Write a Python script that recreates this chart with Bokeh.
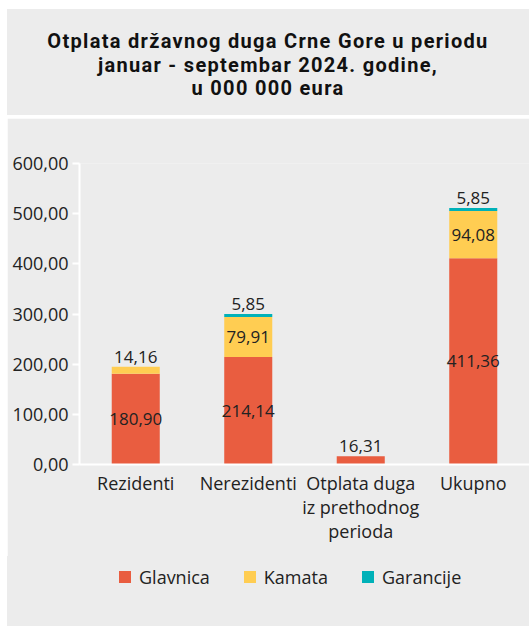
from bokeh.plotting import figure
from bokeh.models import (ColumnDataSource, FactorRange, FixedTicker, CustomJSTickFormatter,
                          Range1d, Div)
from bokeh.layouts import column
from bokeh.core.properties import value
from bokeh.embed import file_html
from bokeh.resources import INLINE

# ---------------- data ----------------
categories = ["Rezidenti", "Nerezidenti", "Otplata duga\niz prethodnog\nperioda", "Ukupno"]
glavnica = [180.90, 214.14, 16.31, 411.36]
kamata = [14.16, 79.91, 0.0, 94.08]
garancije = [0.0, 5.85, 0.0, 5.85]
series_names = ["Glavnica", "Kamata", "Garancije"]
colors = ["#E95D40", "#FFCD52", "#00B1B8"]
y_ticks = [0, 100, 200, 300, 400, 500, 600]
title_lines = ["Otplata državnog duga Crne Gore u periodu",
               "januar - septembar 2024. godine,",
               "u 000 000 eura"]

FONT = "Open Sans"
BG = "#ECECEC"
TXT = "#222222"

# ---------------- title panel ----------------
title_html = (
    '<div style="width:522px;height:106px;box-sizing:border-box;background:%s;'
    'font-family:Roboto;font-weight:bold;font-size:20px;line-height:23.5px;letter-spacing:1.3px;'
    'color:#111;text-align:center;padding-top:21px;margin:0;">%s</div>'
    % (BG, "<br>".join(title_lines))
)
tdiv = Div(text=title_html, width=522, height=106, margin=(0, 0, 3, 0))

# ---------------- chart panel ----------------
cw, ch = 522, 438
p = figure(width=cw, height=ch, x_range=FactorRange(*categories, range_padding=0),
           y_range=Range1d(0, 600), toolbar_location=None, output_backend="svg",
           min_border_left=72, min_border_right=0, min_border_top=45, min_border_bottom=92,
           outline_line_color=None, margin=0)
p.background_fill_color = BG
p.border_fill_color = BG
p.grid.visible = False

src = ColumnDataSource(dict(cat=categories, Glavnica=glavnica, Kamata=kamata, Garancije=garancije))
rs = p.vbar_stack(series_names, x="cat", width=0.427, color=colors, line_color=None, source=src)

# value labels
def fmt(v):
    return f"{v:.2f}".replace(".", ",")

in_x, in_y, in_t = [], [], []
up_x, up_y, up_t = [], [], []
for i, c in enumerate(categories):
    base = 0.0
    total = glavnica[i] + kamata[i] + garancije[i]
    for vals in (glavnica, kamata, garancije):
        v = vals[i]
        if v > 0:
            if v >= 20:
                in_x.append(c); in_y.append(base + v / 2); in_t.append(fmt(v))
            else:
                up_x.append(c); up_y.append(total); up_t.append(fmt(v))
        base += v

p.text(x=in_x, y=in_y, text=in_t, text_align="center", text_baseline="middle",
       text_font=value(FONT), text_font_size="17px", text_color=TXT)
p.text(x=up_x, y=up_y, text=up_t, text_align="center", text_baseline="bottom", y_offset=-4,
       text_font=value(FONT), text_font_size="17px", text_color=TXT)

# axes
p.yaxis.ticker = FixedTicker(ticks=y_ticks)
p.yaxis.formatter = CustomJSTickFormatter(code="return tick.toFixed(2).replace('.', ',');")
for ax in (p.xaxis, p.yaxis):
    ax.axis_line_color = "white"
    ax.axis_line_width = 2
    ax.major_label_text_font = FONT
    ax.major_label_text_font_size = "18px"
    ax.major_label_text_color = TXT
    ax.minor_tick_line_color = None
p.yaxis.major_tick_line_color = "white"
p.yaxis.major_tick_line_width = 2
p.yaxis.major_tick_out = 7
p.yaxis.major_tick_in = 0
p.yaxis.major_label_standoff = 4
p.xaxis.major_tick_line_color = None
p.xaxis.major_tick_out = 0
p.xaxis.major_label_standoff = 6
p.xaxis.major_label_text_line_height = 1.0
p.xaxis.major_label_orientation = "horizontal"

# ---------------- legend panel ----------------
items_html = "".join(
    '<div style="display:flex;align-items:center;margin-right:34px;">'
    '<span style="display:inline-block;width:12px;height:12px;background:%s;margin-right:8px;"></span>'
    '<span>%s</span></div>' % (c, n)
    for n, c in zip(series_names, colors)
)
legend_html = (
    '<div style="width:522px;height:70px;box-sizing:border-box;background:%s;display:flex;'
    'align-items:flex-start;padding-left:112px;padding-top:9px;font-family:\'Open Sans\';'
    'font-size:18px;line-height:24px;color:%s;">%s</div>' % (BG, TXT, items_html)
)
ldiv = Div(text=legend_html, width=522, height=70, margin=0)

layout = column(tdiv, p, ldiv, spacing=0, margin=(9, 0, 0, 7))

open("out.html", "w").write(file_html(layout, INLINE))
